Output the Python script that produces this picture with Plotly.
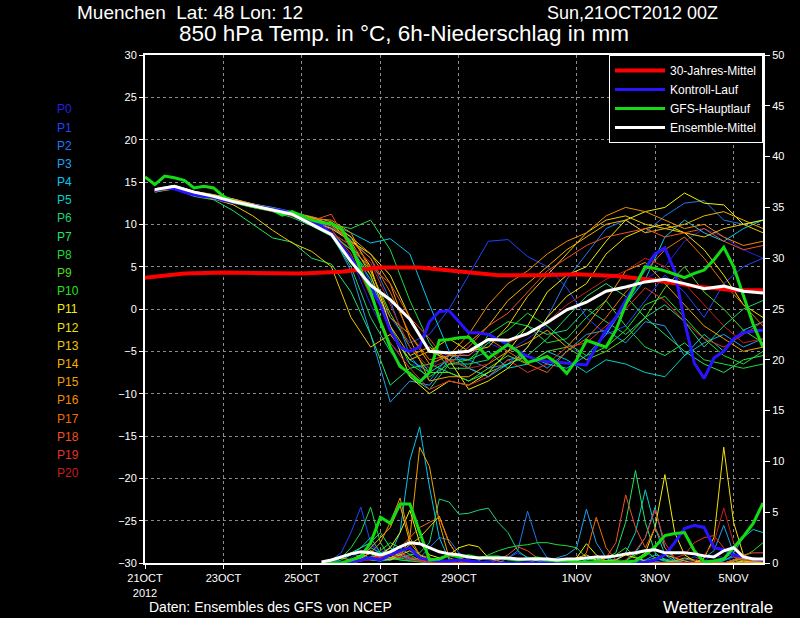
import plotly.graph_objects as go

# hours after 21OCT2012 00Z
member_hours = list(range(6, 379, 12))
run_hours = list(range(6, 379, 6))
gfs_hours = list(range(0, 379, 6))
precip_hours = list(range(108, 379, 6))
clim_hours = [0, 24, 48, 72, 96, 120, 144, 168, 192, 216, 240, 264, 288, 312, 336, 360, 378]

tick_hours = [0, 48, 96, 144, 192, 264, 312, 360]
tick_labels = ["21OCT<br>2012", "23OCT", "25OCT", "27OCT", "29OCT", "1NOV", "3NOV", "5NOV"]

member_names = ["P%d" % i for i in range(21)]
member_colors = ["#2a1ee0", "#1e46ff", "#1e78f0", "#1ea0f0", "#00c8f0", "#00d2c8", "#1ed278",
                 "#1ee664", "#1edc3c", "#50dc1e", "#1ee61e", "#f0f000", "#f0e100", "#f0c800",
                 "#f0b400", "#f0a000", "#f08c00", "#f06e00", "#f05028", "#e63228", "#c81e1e"]

# 850 hPa temperature of the ensemble members (12-hourly)
t_p0 = [13.8, 14.3, 13.6, 13.2, 12.7, 12.3, 11.9, 11.2, 10.6, 9.5, 6.0, 0.5, -4.0, -6.5, -7.0, -5.0, -5.5, -4.0, -5.0, -3.5, -2.0, -4.0, -6.0, -3.0, 1.0, 3.5, 5.0, 8.0, 9.5, 8.5, 7.0, 6.0]
t_p1 = [14.1, 14.5, 13.8, 13.4, 12.9, 12.4, 11.9, 11.4, 10.8, 9.8, 7.8, 3.0, -1.0, -4.0, -3.0, 0.0, 4.0, 8.0, 8.2, 6.2, 5.0, 2.5, -1.0, -3.0, -2.0, 1.0, 4.0, 2.0, -1.0, 3.0, 5.0, 6.0]
t_p2 = [13.9, 14.3, 13.7, 13.3, 12.8, 12.3, 11.7, 11.2, 10.5, 9.6, 8.2, 6.0, 1.0, -5.5, -8.5, -5.5, -6.0, -7.0, -6.5, -4.5, -1.0, 3.5, 6.5, 9.5, 10.5, 9.0, 11.0, 12.5, 12.8, 10.5, 10.0, 10.5]
t_p3 = [14.0, 14.4, 13.7, 13.4, 12.9, 12.3, 11.8, 11.3, 10.2, 9.0, 4.5, -3.0, -11.0, -8.5, -9.0, -6.0, -7.0, -8.0, -6.0, -5.5, -7.0, -5.0, -3.0, -2.5, -4.0, -1.5, -2.0, -5.5, -4.0, -3.0, -4.5, -3.5]
t_p4 = [14.2, 14.6, 13.9, 13.5, 13.0, 12.4, 12.0, 11.5, 10.8, 10.0, 9.0, 7.8, 8.3, 6.5, 0.5, -5.0, -7.0, -8.0, -6.5, -5.5, -6.5, -7.0, -5.5, -3.0, 0.5, 3.5, 8.5, 10.5, 9.0, 8.0, 9.5, 10.5]
t_p5 = [14.1, 14.4, 13.6, 13.2, 12.6, 12.0, 11.6, 11.0, 10.0, 8.8, 7.0, 3.5, -2.5, -6.0, -7.5, -6.0, -6.0, -5.0, -7.0, -6.5, -5.0, -6.0, -7.5, -6.0, -6.5, -7.5, -8.0, -5.5, -3.0, -5.0, -2.5, -1.5]
t_p6 = [14.0, 14.3, 13.5, 13.0, 12.5, 12.0, 11.5, 10.8, 9.8, 8.6, 5.0, -1.0, -5.0, -8.0, -9.5, -6.5, -6.5, -6.0, -4.0, -2.0, -3.0, -2.5, 0.0, -1.5, -3.0, -1.0, 0.5, -1.5, -4.5, -2.0, 0.0, 1.0]
t_p7 = [13.8, 14.2, 13.3, 12.9, 11.6, 10.0, 8.4, 7.9, 6.0, 5.3, 2.0, -3.0, -9.0, -7.0, -6.5, -7.5, -8.5, -7.5, -6.5, -5.5, -3.5, -1.0, 1.5, 3.0, 1.5, -1.0, -3.0, -5.0, -6.5, -7.5, -6.0, -5.5]
t_p8 = [14.0, 14.4, 13.7, 13.3, 12.8, 12.3, 11.8, 11.2, 10.4, 10.0, 9.5, 10.5, 7.0, 1.0, -4.0, -7.0, -7.0, -3.0, -1.5, -2.0, -4.0, -3.5, -1.0, 1.0, -2.0, -4.5, -5.5, -4.0, -6.0, -6.5, -7.0, -6.5]
t_p9 = [14.1, 14.5, 13.8, 13.3, 12.7, 12.2, 11.7, 11.1, 10.2, 9.0, 7.5, 4.5, -0.5, -4.5, -7.5, -7.5, -8.5, -7.0, -5.5, -6.5, -5.0, -4.5, -6.0, -5.0, -3.5, -1.0, 2.5, 5.0, 2.0, 0.0, -2.5, -4.0]
t_p10 = [13.9, 14.3, 13.6, 13.2, 12.6, 12.1, 11.6, 11.0, 10.0, 9.0, 7.0, 4.0, -2.0, -6.5, -8.0, -6.5, -6.0, -4.0, -2.5, -0.5, -2.0, -4.0, -5.5, -4.5, -2.5, 0.5, 1.5, -1.0, -3.5, -5.5, -6.5, -5.0]
t_p11 = [14.0, 14.4, 13.7, 13.3, 12.8, 12.3, 11.8, 11.3, 10.6, 10.0, 8.5, 5.0, -2.0, -8.0, -10.0, -8.5, -9.0, -7.5, -5.0, -2.0, 2.0, 4.0, 5.0, 8.0, 10.5, 11.5, 12.0, 13.7, 12.5, 12.3, 10.0, 10.5]
t_p12 = [14.0, 14.4, 13.8, 13.3, 12.8, 12.2, 11.8, 11.2, 10.3, 9.5, 8.0, 6.5, 4.0, -1.0, -5.0, -6.0, -9.5, -8.5, -7.0, -4.5, -1.0, 1.5, 3.0, 6.5, 8.5, 9.5, 10.0, 9.0, 7.0, 4.0, 0.5, -1.0]
t_p13 = [13.9, 14.2, 13.4, 13.0, 12.3, 11.0, 9.3, 7.8, 6.8, 5.0, -1.0, -4.5, -3.0, -6.0, -5.0, -3.5, -5.0, -4.5, -2.0, 1.5, 4.0, 6.5, 9.0, 10.5, 11.0, 10.0, 9.5, 9.0, 8.5, 9.5, 10.0, 9.0]
t_p14 = [14.2, 14.6, 13.9, 13.5, 13.0, 12.4, 11.9, 11.4, 10.8, 10.0, 8.0, 4.0, -2.0, -5.5, -4.5, -6.0, -4.0, -2.0, 1.0, 3.0, 5.0, 7.0, 8.5, 10.0, 10.5, 9.0, 9.5, 10.0, 11.0, 11.5, 10.5, 9.5]
t_p15 = [14.1, 14.5, 13.8, 13.4, 12.9, 12.4, 11.9, 11.4, 10.9, 10.3, 8.5, 6.5, 3.0, -3.5, -8.5, -8.0, -8.0, -6.5, -5.0, -4.0, -2.5, -4.5, -2.0, 1.0, 4.5, 5.5, 3.0, 0.5, -2.0, -3.5, -5.0, -4.5]
t_p16 = [14.0, 14.4, 13.8, 13.4, 12.9, 12.3, 11.9, 11.4, 10.7, 10.5, 9.0, 4.5, -1.0, -3.0, -6.5, -5.5, -3.0, 0.5, 3.0, 4.5, 6.5, 8.0, 9.0, 11.0, 12.0, 11.5, 10.5, 9.5, 10.0, 8.5, 7.5, 8.0]
t_p17 = [14.1, 14.4, 13.7, 13.3, 12.8, 12.3, 11.8, 11.3, 10.5, 9.8, 8.0, 6.0, 2.0, -3.0, -6.0, -5.5, -5.5, -3.5, -5.0, -6.5, -7.5, -5.0, -3.5, -1.0, 2.0, 4.5, 7.0, 8.5, 6.0, 3.0, 0.5, -2.0]
t_p18 = [14.0, 14.3, 13.6, 13.2, 12.7, 12.2, 11.7, 11.1, 10.4, 11.2, 7.0, 5.0, 3.0, -1.0, -3.5, -6.5, -4.5, -2.0, -0.5, 2.0, 4.5, 6.0, 7.5, 8.5, 9.0, 9.5, 8.5, 9.0, 9.5, 8.0, 7.0, 7.5]
t_p19 = [14.0, 14.3, 13.6, 13.1, 12.6, 12.1, 11.6, 11.0, 10.2, 9.4, 6.5, 1.5, -4.0, -7.0, -9.5, -8.5, -9.0, -8.0, -6.0, -7.5, -6.5, -4.5, -4.0, -2.0, 0.0, 2.5, 1.0, -1.5, -3.5, -4.5, -3.0, -1.5]
t_p20 = [13.9, 14.2, 13.5, 13.1, 12.6, 12.0, 11.5, 11.0, 10.0, 9.0, 7.5, 5.5, 0.5, -4.5, -7.0, -6.0, -7.0, -6.5, -4.0, -3.0, -1.5, 0.5, 2.0, 3.5, 4.5, 6.0, 5.0, 3.0, 0.5, -2.0, -4.0, -3.5]

# 6h precipitation of the ensemble members (from 26OCT 12Z)
p_p0 = [0, 0, 0, 0.5, 1.5, 2.0, 1.0, 0.3, 0.5, 1.0, 0.5, 0.2, 0, 0, 0.1, 0.2, 0, 0, 0, 0, 0, 0.1, 0.3, 0.1, 0, 0, 0, 0, 0, 0.2, 0.4, 0.2, 0, 1.0, 0.5, 0.1, 0, 0, 0, 0.2, 0.8, 0.5, 0.2, 0, 0, 0]
p_p1 = [0, 0.3, 1.0, 3.0, 5.5, 2.0, 0.5, 0.3, 1.0, 0.5, 0.2, 0, 0, 0, 0, 0, 0.1, 0.2, 0.3, 0.5, 1.0, 0.6, 0.2, 0, 0, 0, 0, 0, 0, 0, 0.1, 0.2, 0, 0, 0, 0.1, 0.3, 0.2, 0.6, 0.3, 0, 0, 0.2, 0.5, 0.3, 0.1]
p_p2 = [0, 0, 0, 0.2, 0.8, 0.5, 1.0, 1.5, 0.8, 0.3, 0.5, 1.5, 2.5, 2.3, 1.0, 0.3, 0.1, 0, 0, 0.5, 1.2, 5.1, 2.0, 0.5, 0.2, 0, 0, 0, 0, 0, 0, 0, 0.1, 0.3, 0.2, 0, 0, 0.4, 0.2, 0, 0, 0.3, 0.6, 0.2, 0, 0]
p_p3 = [0, 0.2, 0.5, 1.0, 0.6, 0.3, 0.2, 0.5, 0.8, 0.4, 0.2, 0.1, 0, 0, 0, 0, 0, 0, 0, 0, 0, 0, 0, 0.2, 0.5, 0.8, 1.5, 5.3, 2.0, 0.5, 0.2, 0.1, 0, 0.3, 0.8, 0.4, 0.2, 0, 0, 0.5, 1.2, 3.7, 1.0, 0.3, 0.2, 0.1]
p_p4 = [0, 0, 0, 0, 0.5, 1.5, 1.0, 0.8, 3.0, 10.1, 13.4, 7.5, 2.5, 0.3, 0, 0, 0, 0, 0, 0, 0, 0, 0, 0, 0, 0, 0, 0, 0, 0, 0, 0.2, 1.0, 2.5, 5.5, 1.5, 0.3, 0, 0, 0, 0, 0.2, 0.8, 0.5, 0.2, 0]
p_p5 = [0, 0, 0.3, 0.8, 1.5, 2.5, 1.0, 0.5, 0.3, 0.2, 0.5, 0.3, 0.1, 0, 0, 0, 0, 0, 0, 0, 0, 0, 0, 0, 0, 0, 0, 0.3, 0.5, 0.2, 0.3, 1.0, 3.0, 7.2, 3.5, 0.8, 0.2, 0, 0, 0, 0.2, 0.5, 1.0, 2.5, 3.3, 3.0]
p_p6 = [0, 0, 0, 0.2, 0.5, 0.3, 0.2, 0.3, 0.5, 0.8, 1.0, 2.0, 6.3, 6.0, 4.8, 4.9, 5.2, 5.4, 4.0, 3.0, 1.2, 0.5, 0.2, 0, 0, 0, 0, 0, 0, 0, 0, 0, 0, 0.2, 0.5, 0.3, 0, 0, 0, 0, 0, 0, 0.3, 0.5, 0.2, 0.1]
p_p7 = [0, 0.2, 0.5, 1.0, 1.5, 2.0, 3.0, 1.5, 0.5, 0.3, 0.2, 0.1, 0, 0, 0, 0, 0, 0, 0, 0, 0, 0, 0, 0, 0, 0, 0.2, 0.5, 0.3, 0.5, 1.0, 4.0, 9.1, 4.0, 1.0, 0.3, 0.1, 0, 0, 0, 0, 0, 0.2, 0.4, 0.2, 0]
p_p8 = [0, 0, 0.5, 1.5, 3.0, 5.5, 2.0, 0.5, 0.3, 0.2, 0.1, 0, 0, 0, 0, 0, 0.2, 0.8, 1.2, 1.5, 1.7, 1.8, 2.0, 2.0, 1.8, 1.7, 1.5, 0.5, 0.2, 0, 0, 0, 0, 0, 0, 0, 0, 0, 0, 0, 0, 0, 0.2, 0.5, 0.3, 0.5]
p_p9 = [0, 0, 0, 0.3, 0.8, 1.2, 0.8, 0.5, 1.0, 1.5, 0.8, 0.3, 0.2, 0.1, 0, 0, 0, 0, 0, 0, 0, 0, 0.3, 0.5, 0.2, 0, 0, 0, 0, 0.2, 0.8, 1.5, 0.6, 0.2, 0, 0, 0, 0, 0, 0, 0, 0, 0, 0.2, 0.3, 0.2]
p_p10 = [0, 0, 0, 0, 0.3, 0.6, 1.2, 2.0, 1.5, 0.8, 0.3, 0.1, 0, 0, 0, 0, 0, 0, 0, 0, 0, 0, 0, 0, 0, 0, 0, 0, 0, 0, 0, 0.2, 0.8, 1.2, 0.5, 0.2, 0, 0, 0, 0, 0, 0, 0.2, 0.6, 1.2, 2.0]
p_p11 = [0, 0, 0, 0.2, 0.5, 1.0, 0.8, 1.5, 3.0, 5.2, 2.0, 0.8, 0.5, 0.8, 1.5, 1.8, 1.6, 0.5, 0.2, 0, 0, 0, 0, 0, 0, 0, 0.5, 1.9, 0.8, 0.2, 0.1, 0, 0.3, 1.0, 3.5, 8.7, 3.0, 0.8, 0.2, 0, 0, 0, 0, 0.2, 0.1, 0]
p_p12 = [0, 0, 0, 0, 0.5, 1.0, 0.5, 0.3, 0.8, 1.2, 0.6, 0.3, 0.2, 0.1, 0, 0, 0, 0, 0, 0, 0, 0, 0, 0, 0, 0.2, 0.5, 0.8, 0.3, 0.2, 0.3, 0.8, 0.5, 0.2, 0, 0, 0, 0, 0, 0.5, 2.5, 11.4, 4.0, 0.8, 0.3, 0.2]
p_p13 = [0, 0.2, 0.5, 0.3, 0.8, 1.2, 0.8, 0.5, 1.0, 1.8, 2.5, 3.5, 4.6, 2.0, 0.5, 0.2, 0, 0, 0, 0, 0, 0, 0, 0, 0, 0, 0, 0, 0, 0, 0, 0, 0, 0, 0.3, 0.8, 0.5, 0.2, 0, 0, 0, 0, 0, 0, 0, 0]
p_p14 = [0, 0, 0, 0.3, 0.6, 1.5, 2.5, 3.5, 5.7, 2.0, 0.8, 0.3, 0.1, 0, 0, 0, 0, 0, 0, 0, 0, 0, 0, 0, 0, 0, 0, 0, 0, 0, 0, 0, 0, 0, 0, 0, 0.2, 0.5, 0.3, 0, 0, 0, 0, 0, 0, 0]
p_p15 = [0, 0, 0, 0, 0.3, 0.5, 0.8, 0.5, 0.5, 2.5, 11.4, 9.5, 4.0, 0.5, 0.2, 0, 0, 0, 0, 0, 0, 0, 0, 0, 0, 0, 0, 0, 0, 0, 0, 0, 0, 0, 0, 0, 0, 0, 0, 0, 0, 0, 0, 0, 0.2, 0.3]
p_p16 = [0, 0, 0, 0.2, 0.5, 1.0, 2.0, 4.0, 6.4, 2.5, 0.8, 0.5, 0.3, 0.2, 0, 0, 0, 0, 0, 0, 0, 0, 0, 0, 0, 0, 0, 0, 0, 0, 0, 0, 0, 0, 0, 0, 0, 0, 0, 0, 0, 0, 0, 0.3, 0.5, 0.3]
p_p17 = [0, 0, 0, 0, 0.2, 0.5, 0.8, 1.0, 1.5, 2.5, 3.5, 4.0, 4.5, 2.0, 0.5, 0.2, 0, 0, 0, 0, 0, 0, 0, 0, 0, 0, 0.2, 1.0, 4.5, 1.5, 0.3, 0, 0, 0, 0, 0, 0, 0, 0, 0, 0, 0, 0.2, 0.5, 0.3, 0.1]
p_p18 = [0, 0, 0, 0, 0.2, 0.4, 0.8, 1.2, 1.0, 0.5, 0.3, 0.2, 0, 0, 0, 0, 0, 0, 0.3, 0.8, 1.6, 1.2, 0.5, 0.2, 0, 0, 0, 0, 0, 0.5, 2.0, 6.7, 3.5, 1.5, 3.5, 1.5, 0.5, 0, 0, 0, 0, 0, 0.3, 0.8, 1.0, 1.0]
p_p19 = [0, 0, 0, 0, 0.3, 0.5, 0.6, 0.8, 1.0, 0.6, 0.3, 0.1, 0, 0, 0, 0, 0, 0, 0, 0, 0, 0, 0, 0, 0, 0, 0, 0, 0, 0, 0, 0.3, 1.2, 2.5, 5.2, 2.0, 0.5, 0.8, 2.0, 2.5, 2.7, 1.5, 0.6, 0.3, 0.2, 0.2]
p_p20 = [0, 0, 0, 0, 0.2, 0.3, 0.5, 0.8, 0.6, 0.3, 0.2, 0, 0, 0, 0, 0, 0, 0, 0, 0, 0, 0, 0, 0, 0, 0, 0, 0, 0, 0, 0, 0, 0, 0, 0, 0, 0, 0, 0.2, 0.8, 2.0, 5.4, 2.0, 0.5, 0.3, 0.2]

# 30-year climatology
clim_temp = [3.7, 4.2, 4.3, 4.2, 4.2, 4.4, 4.9, 4.9, 4.4, 4.0, 4.0, 4.1, 3.9, 3.4, 2.7, 2.2, 2.2]

# control run (6-hourly from 06Z)
ctrl_temp = [14.0, 14.3, 14.2, 13.8, 13.5, 13.3, 13.2, 12.8, 12.6, 12.4, 12.2, 12.0, 11.8, 11.6, 11.3, 11.0,
             10.4, 9.8, 8.9, 7.5, 6.0, 4.2, 2.5, 0.5, -2.5, -4.5, -5.0, -4.5, -1.5, -0.3, -0.2, -1.5,
             -2.8, -2.8, -3.0, -3.6, -4.2, -5.0, -5.6, -6.0, -6.2, -6.3, -6.4, -6.5, -6.6, -4.5, -2.5, -1.0,
             1.0, 3.0, 4.8, 6.5, 7.2, 4.5, -1.5, -6.4, -8.2, -5.8, -5.0, -3.5, -2.8, -2.6, -2.5]
ctrl_precip = [0, 0, 0, 0.1, 0.3, 0.5, 0.3, 0.8, 1.2, 1.5, 0.5, 0.3, 0.2, 0.2, 0.3, 0.2, 0.1, 0, 0, 0, 0, 0, 0,
               0, 0, 0, 0, 0, 0, 0, 0, 0, 0, 0.1, 0.3, 0.8, 2.0, 3.4, 3.7, 3.5, 1.5, 1.3, 0.8, 0.6, 0.4, 0.3]

# GFS operational run (6-hourly from 00Z)
gfs_temp = [15.6, 14.7, 15.7, 15.5, 15.2, 14.3, 14.5, 14.3, 13.3, 12.7, 12.4, 12.1, 11.9, 11.7, 11.1, 11.5,
            11.0, 10.5, 10.2, 10.1, 9.5, 7.5, 4.6, 2.0, -1.5, -4.5, -6.8, -7.6, -8.6, -7.5, -3.7, -3.6,
            -3.4, -3.3, -4.5, -5.8, -5.0, -4.2, -5.0, -6.3, -6.0, -5.6, -6.4, -7.6, -6.0, -3.7, -4.1, -4.5,
            -2.5, 0.5, 2.8, 5.0, 4.8, 4.5, 4.1, 3.7, 4.2, 4.6, 5.8, 7.3, 5.0, 1.5, -1.8, -4.5]
gfs_precip = [0, 0, 0, 0.3, 0.6, 2.0, 4.5, 3.9, 5.8, 5.8, 3.0, 0.3, 0.4, 0.8, 0.6, 0.7, 0.5, 0.6, 0.6, 0.4,
              0.3, 0.4, 0.5, 0.3, 0.2, 0.2, 0.1, 0.1, 0.1, 0.1, 0.1, 0.1, 0.2, 0.8, 1.6, 2.7, 2.9, 3.0, 1.2,
              0.1, 0.2, 0.4, 1.5, 2.6, 3.9, 5.9]

# ensemble mean
mean_temp = [14.1, 14.5, 13.8, 13.3, 12.7, 12.2, 11.7, 11.2, 10.0, 8.8, 5.6, 2.8, 1.1, -1.2, -5.0, -5.2,
             -5.0, -3.6, -3.7, -2.9, -1.6, -0.1, 0.8, 2.1, 2.6, 3.2, 3.5, 3.0, 2.4, 2.7, 2.1, 1.9]
mean_precip = [0.1, 0.3, 0.6, 0.9, 1.1, 1.0, 0.8, 1.1, 1.6, 2.0, 1.9, 1.5, 1.1, 0.9, 0.8, 0.6, 0.5, 0.5,
               0.5, 0.5, 0.4, 0.4, 0.4, 0.4, 0.3, 0.4, 0.4, 0.5, 0.6, 0.6, 0.7, 0.9, 1.0, 1.2, 1.3, 1.0,
               1.0, 1.0, 0.9, 0.7, 0.6, 1.2, 1.5, 0.6, 0.4, 0.4]

member_temps = [t_p0, t_p1, t_p2, t_p3, t_p4, t_p5, t_p6, t_p7, t_p8, t_p9, t_p10,
                t_p11, t_p12, t_p13, t_p14, t_p15, t_p16, t_p17, t_p18, t_p19, t_p20]
member_precip = [p_p0, p_p1, p_p2, p_p3, p_p4, p_p5, p_p6, p_p7, p_p8, p_p9, p_p10,
                 p_p11, p_p12, p_p13, p_p14, p_p15, p_p16, p_p17, p_p18, p_p19, p_p20]

FONT = "Liberation Sans"
GRID = "#8c8c8c"

fig = go.Figure()

for name, col, tv, pv in zip(member_names, member_colors, member_temps, member_precip):
    fig.add_trace(go.Scatter(x=precip_hours, y=pv, yaxis="y2", mode="lines", name=name,
                             line=dict(color=col, width=1), showlegend=False))
    fig.add_trace(go.Scatter(x=member_hours, y=tv, mode="lines", name=name,
                             line=dict(color=col, width=1), showlegend=False))

fig.add_trace(go.Scatter(x=clim_hours, y=clim_temp, mode="lines", name="30-Jahres-Mittel",
                         line=dict(color="#ff0000", width=4)))
fig.add_trace(go.Scatter(x=run_hours, y=ctrl_temp, mode="lines", name="Kontroll-Lauf",
                         legendgroup="ctrl", line=dict(color="#2a14ff", width=3)))
fig.add_trace(go.Scatter(x=precip_hours, y=ctrl_precip, yaxis="y2", mode="lines", legendgroup="ctrl",
                         showlegend=False, line=dict(color="#2a14ff", width=3)))
fig.add_trace(go.Scatter(x=gfs_hours, y=gfs_temp, mode="lines", name="GFS-Hauptlauf",
                         legendgroup="gfs", line=dict(color="#14dc14", width=3)))
fig.add_trace(go.Scatter(x=precip_hours, y=gfs_precip, yaxis="y2", mode="lines", legendgroup="gfs",
                         showlegend=False, line=dict(color="#14dc14", width=3)))
fig.add_trace(go.Scatter(x=member_hours, y=mean_temp, mode="lines", name="Ensemble-Mittel",
                         legendgroup="mean", line=dict(color="#ffffff", width=3)))
fig.add_trace(go.Scatter(x=precip_hours, y=mean_precip, yaxis="y2", mode="lines", legendgroup="mean",
                         showlegend=False, line=dict(color="#ffffff", width=3)))

# member labels on the left
annotations = []
for i, (name, col) in enumerate(zip(member_names, member_colors)):
    annotations.append(dict(text=name, x=-0.146, y=0.893 - i * 0.0358, xref="paper", yref="paper",
                            xanchor="left", yanchor="middle", showarrow=False,
                            font=dict(family=FONT, size=12, color=col)))

annotations += [
    dict(text="Muenchen  Lat: 48 Lon: 12", x=-0.113, y=1.083, xref="paper", yref="paper",
         xanchor="left", yanchor="middle", showarrow=False, font=dict(family=FONT, size=19, color="white")),
    dict(text="Sun,21OCT2012 00Z", x=0.647, y=1.083, xref="paper", yref="paper",
         xanchor="left", yanchor="middle", showarrow=False, font=dict(family=FONT, size=18, color="white")),
    dict(text="850 hPa Temp. in °C, 6h-Niederschlag in mm", x=0.419, y=1.043, xref="paper", yref="paper",
         xanchor="center", yanchor="middle", showarrow=False, font=dict(family=FONT, size=22.5, color="white")),
    dict(text="Daten: Ensembles des GFS von NCEP", x=0.003, y=-0.087, xref="paper", yref="paper",
         xanchor="left", yanchor="middle", showarrow=False, font=dict(family=FONT, size=14, color="white")),
    dict(text="Wetterzentrale", x=1.019, y=-0.087, xref="paper", yref="paper",
         xanchor="right", yanchor="middle", showarrow=False, font=dict(family=FONT, size=17, color="white")),
]

fig.update_layout(
    width=800, height=618,
    paper_bgcolor="black", plot_bgcolor="black",
    margin=dict(l=145, r=37, t=55, b=55),
    font=dict(family=FONT, size=11, color="white"),
    xaxis=dict(range=[0, 378], tickvals=tick_hours, ticktext=tick_labels, showgrid=True,
               gridcolor=GRID, griddash="dot", gridwidth=1, ticks="outside", ticklen=4,
               tickcolor="white", showline=True, linecolor="white", linewidth=2, mirror=True,
               zeroline=False, tickfont=dict(size=11)),
    yaxis=dict(range=[-30, 30], tick0=0, dtick=5, showgrid=True, gridcolor=GRID, griddash="dot",
               gridwidth=1, ticks="outside", ticklen=4, tickcolor="white", showline=True,
               linecolor="white", linewidth=2, zeroline=False, tickfont=dict(size=11)),
    yaxis2=dict(range=[0, 50], tick0=0, dtick=5, overlaying="y", side="right", showgrid=False,
                ticks="outside", ticklen=5, tickcolor="white", showline=True, linecolor="white",
                linewidth=2, zeroline=False, tickfont=dict(size=11)),
    legend=dict(x=1, xanchor="right", y=1, yanchor="top", bgcolor="black", bordercolor="white",
                borderwidth=1, itemwidth=50, tracegroupgap=0,
                font=dict(family=FONT, size=12, color="white")),
    annotations=annotations,
)

# page without the default body margin, so the figure fills the window
fig.write_html("out.html", config={"displayModeBar": False},
               post_script="document.body.style.margin='0';document.body.style.background='black';")
